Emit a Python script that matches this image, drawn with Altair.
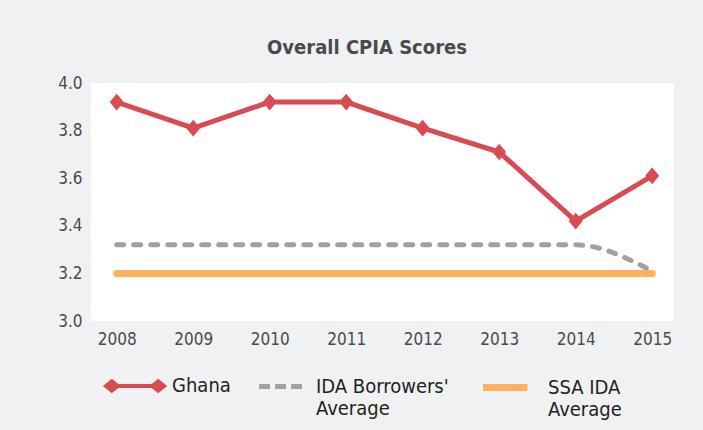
import altair as alt
import pandas as pd

# ---- data ----
years = [2008, 2009, 2010, 2011, 2012, 2013, 2014, 2015]
ghana = [3.92, 3.81, 3.92, 3.92, 3.81, 3.71, 3.42, 3.61]
ida_avg = [3.32, 3.32, 3.32, 3.32, 3.32, 3.32, 3.32, 3.21]
ssa_ida_avg = [3.20, 3.20, 3.20, 3.20, 3.20, 3.20, 3.20, 3.20]
series_names = ["Ghana", "IDA Borrowers' Average", "SSA IDA Average"]
y_ticks = [3.0, 3.2, 3.4, 3.6, 3.8, 4.0]
title_text = "Overall CPIA Scores"

# ---- styles ----
RED, GREY, ORANGE = "#d94b53", "#a3a09f", "#fbb15d"
BG = "#f0f1f3"
FONT = "DejaVu Sans Condensed, Roboto, sans-serif"
TXT = "#4a4a4c"

rows = []
for name, vals in zip(series_names, [ghana, ida_avg, ssa_ida_avg]):
    for yr, v in zip(years, vals):
        rows.append({"year": yr, "value": v, "series": name})
df = pd.DataFrame(rows)

x_enc = alt.X(
    "year:Q",
    scale=alt.Scale(domain=[2007.664, 2015.285], nice=False, zero=False),
    axis=alt.Axis(values=years, format="d", title=None, labelFont=FONT,
                  labelFontSize=17, labelColor=TXT, labelPadding=10,
                  ticks=False, domain=False, grid=False, labelFlush=False,
                  labelOverlap=False),
)
y_enc = alt.Y(
    "value:Q",
    scale=alt.Scale(domain=[3.0, 4.0], nice=False, zero=False),
    axis=alt.Axis(values=y_ticks, format=".1f", title=None, labelFont=FONT,
                  labelFontSize=17, labelColor=TXT, labelPadding=9,
                  ticks=False, domain=False, grid=False, labelOverlap=False),
)

SYM = 58 * 58
two_lines = ("[slice(datum.label, 0, lastindexof(datum.label, ' ')), "
             "slice(datum.label, lastindexof(datum.label, ' ') + 1)]")


def make_legend(path, lx, ly, color, sw, offset, expr=None, dash=None):
    kw = dict(orient="none", legendX=lx, legendY=ly, title=None,
              symbolType=path, symbolSize=SYM, symbolStrokeWidth=sw,
              symbolFillColor=color, symbolStrokeColor=color,
              labelFont=FONT, labelFontSize=20, labelColor="#231f20",
              labelOffset=offset, labelLimit=400, padding=0, symbolOpacity=1)
    if expr is not None:
        kw["labelExpr"] = expr
    if dash is not None:
        kw["symbolDash"] = dash
    return alt.Legend(**kw)


ghana_path = ("M-1,0L-0.8,-0.16L-0.6,0L-0.8,0.16Z"
              "M-0.88,0L-0.8,-0.06L-0.72,0L-0.8,0.06Z"
              "M0.6,0L0.8,-0.16L1,0L0.8,0.16Z"
              "M0.72,0L0.8,-0.06L0.88,0L0.8,0.06Z"
              "M-0.7,0L0.7,0")
ida_path = "M-0.776,0L0.707,0"
ssa_path = "M-0.98,0L0.55,0"

base = alt.Chart(df)

ghana_line = base.transform_filter(alt.datum.series == series_names[0]).mark_line(
    strokeWidth=5, strokeJoin="miter"
).encode(
    x=x_enc, y=y_enc,
    color=alt.Color("series:N", scale=alt.Scale(domain=[series_names[0]], range=[RED]),
                    legend=make_legend(ghana_path, 13, 272, RED, 4, 6)),
)

ghana_pts = base.transform_filter(alt.datum.series == series_names[0]).mark_point(
    shape="M-0.84,0L0,-1L0.84,0L0,1Z", size=279, filled=True, opacity=1, color=RED
).encode(x=x_enc, y=y_enc)

ida_line = base.transform_filter(alt.datum.series == series_names[1]).mark_line(
    strokeWidth=5, strokeDash=[7, 10], strokeCap="round", interpolate="monotone"
).encode(
    x=x_enc, y=y_enc,
    color=alt.Color("series:N", scale=alt.Scale(domain=[series_names[1]], range=[GREY]),
                    legend=make_legend(ida_path, 159, 272, GREY, 5, 3, two_lines, [11, 5])),
)

ssa_line = base.transform_filter(alt.datum.series == series_names[2]).mark_line(
    strokeWidth=7, strokeCap="round"
).encode(
    x=x_enc, y=y_enc,
    color=alt.Color("series:N", scale=alt.Scale(domain=[series_names[2]], range=[ORANGE]),
                    legend=make_legend(ssa_path, 388, 272, ORANGE, 7, 4, two_lines)),
)

chart = alt.layer(ssa_line, ida_line, ghana_line, ghana_pts).resolve_scale(
    color="independent"
).properties(
    width=583,
    height=238,
    padding={"left": 91, "top": 83, "right": 29, "bottom": 109},
    autosize=alt.AutoSizeParams(type="none"),
    title=alt.Title(title_text, font=FONT, fontSize=20, fontWeight="bold", color=TXT,
                    anchor="middle", dx=-15.5, dy=28, offset=28, baseline="alphabetic"),
).configure(background=BG).configure_view(fill="white", stroke=None, strokeWidth=0)

chart.save("out.html", embed_options={"renderer": "svg", "actions": False})
